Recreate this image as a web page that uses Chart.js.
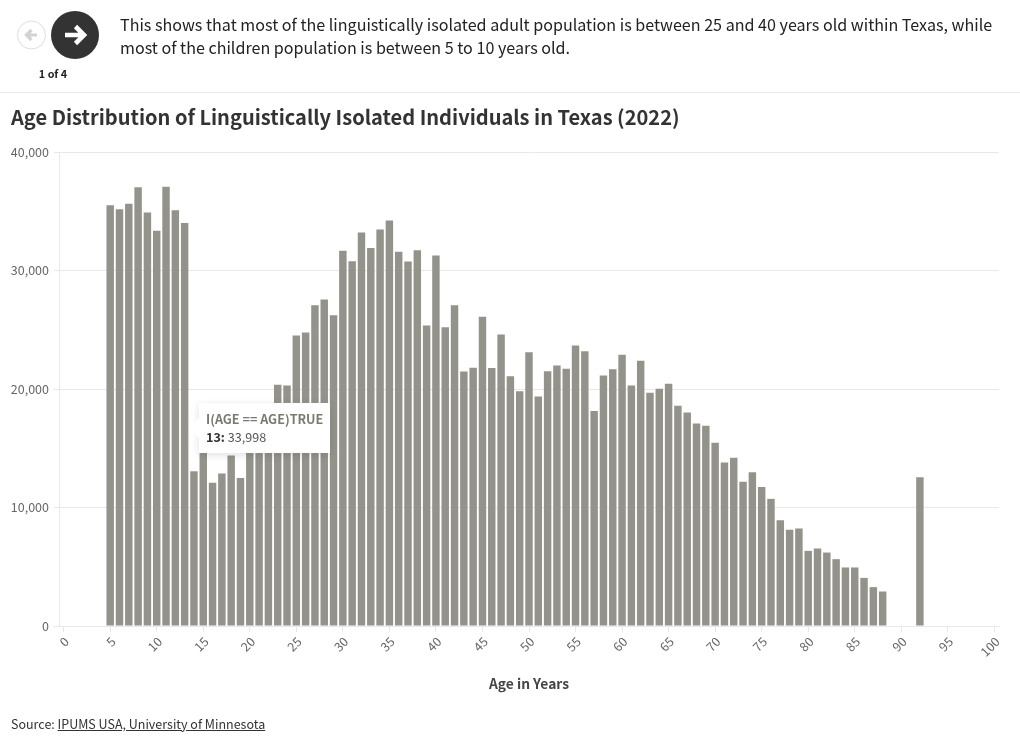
<!DOCTYPE html>
<html><head><meta charset="utf-8">
<script src="https://cdn.jsdelivr.net/npm/chart.js@4"></script>
<style>
html,body{margin:0;padding:0;background:#fff;overflow:hidden}
body{width:1020px;height:743px;position:relative;font-family:"Noto Sans CJK SC","Noto Sans",sans-serif;color:#333}
.abs{position:absolute;white-space:nowrap}
#c{position:absolute;left:0;top:0}
a{color:#333;text-decoration:underline}
#tip{left:199px;top:403px;width:131px;height:50px;background:#fff;box-shadow:0 2px 8px rgba(0,0,0,.12);font-size:12.6px;line-height:18px}
#tip:before{content:"";position:absolute;left:-10px;top:15px;border:10px solid transparent;border-left:0;border-right-color:#fff}
</style></head><body>
<canvas id="c" width="1020" height="743"></canvas>
<svg class="abs" style="left:0;top:0" width="110" height="62">
<circle cx="31.5" cy="35" r="14" fill="#fff" stroke="#ddd" stroke-width="1"/>
<path d="M37 35H27M31.5 30L26.5 35L31.5 40" fill="none" stroke="#d3d3d3" stroke-width="3.2"/>
<circle cx="75" cy="35" r="24" fill="#333"/>
<path d="M65 35H83M75.5 26.5L84 35L75.5 43.5" fill="none" stroke="#fff" stroke-width="4.6"/>
</svg>
<div class="abs" style="left:0;width:106px;top:65px;text-align:center;font-size:10.8px;line-height:16px;font-weight:700;color:#222">1 of 4</div>
<div class="abs" style="left:120px;top:13px;font-size:16.1px;line-height:23px;color:#222">This shows that most of the linguistically isolated adult population is between 25 and 40 years old within Texas, while<br>most of the children population is between 5 to 10 years old.</div>
<div class="abs" style="left:0;top:92px;width:1020px;height:1px;background:#e8e8e8"></div>
<div class="abs" style="left:11px;top:101px;font-size:20.06px;line-height:32px;font-weight:700;color:#333">Age Distribution of Linguistically Isolated Individuals in Texas (2022)</div>
<div class="abs" style="left:11px;top:714px;font-size:12.5px;line-height:20px;color:#333">Source: <a>IPUMS USA, University of Minnesota</a></div>
<div class="abs" id="tip"><div class="abs" id="tipT" style="left:7px;top:7px;font-weight:700;color:#7b7a72"></div><div class="abs" style="left:7px;top:25px;color:#555"><b id="tipK" style="color:#333"></b> <span id="tipV"></span></div></div>
<script>
const ages = Array.from({length:101},(_,i)=>i);
const counts = [null,null,null,null,null,
35510,35170,35630,37030,34900,33350,37060,35090,33998,13060,15200,12080,12870,14390,12480,
15800,17000,18500,20350,20300,24520,24770,27070,27550,26230,31660,30790,33210,31900,33460,34220,
31580,30760,31710,25360,31270,25220,27070,21480,21790,26090,21770,24600,21080,19820,23110,19370,
21500,21980,21700,23670,23190,18150,21140,21670,22880,20300,22380,19680,20020,20440,18580,18020,
17090,16890,15460,13800,14190,12170,12980,11720,10730,8930,8120,8230,6340,6540,6200,5640,4940,4940,
4060,3280,2910,null,null,null,12560,null,null,null,null,null,null,null,null];
const seriesName = "I(AGE == AGE)TRUE";
const tipAge = 13;
const xTitle = "Age in Years";
const yTicks = [0,10000,20000,30000,40000];
document.getElementById('tipT').textContent = seriesName;
document.getElementById('tipK').textContent = tipAge + ':';
document.getElementById('tipV').textContent = counts[tipAge].toLocaleString('en-US');
const FONT = '"Noto Sans CJK SC","Noto Sans",sans-serif';
const G = '#e8e8e8';
new Chart(document.getElementById('c'),{
 type:'bar',
 data:{labels:ages,datasets:[{label:seriesName,data:counts,backgroundColor:'#93928b',barPercentage:0.8,categoryPercentage:1}]},
 options:{responsive:false,animation:false,
  layout:{padding:{top:152,right:21,bottom:51,left:0}},
  plugins:{legend:{display:false},tooltip:{enabled:false}},
  scales:{
   x:{type:'category',offset:true,
     afterFit:s=>{s.height=66},
     grid:{offset:false,drawOnChartArea:false,drawTicks:true,tickLength:6,color:c=>ages[c.index]%5===0?G:'rgba(0,0,0,0)'},
     border:{color:G},
     ticks:{autoSkip:false,maxRotation:45,minRotation:45,padding:2,labelOffset:3,color:'#666',font:{family:FONT,size:12.5},
       callback:function(v,i){return ages[i]%5===0?String(ages[i]):''}},
     title:{display:true,text:xTitle,color:'#444',font:{family:FONT,size:13.8,weight:'bold'},padding:{top:0,bottom:0}}
   },
   y:{min:0,max:40000,
     afterFit:s=>{s.width=59},
     afterBuildTicks:s=>{s.ticks=yTicks.map(v=>({value:v}))},
     grid:{color:G,tickLength:5},border:{color:G},
     ticks:{padding:5,color:'#666',font:{family:FONT,size:12.5}}
   }
  }
 }
});
</script>
</body></html>
